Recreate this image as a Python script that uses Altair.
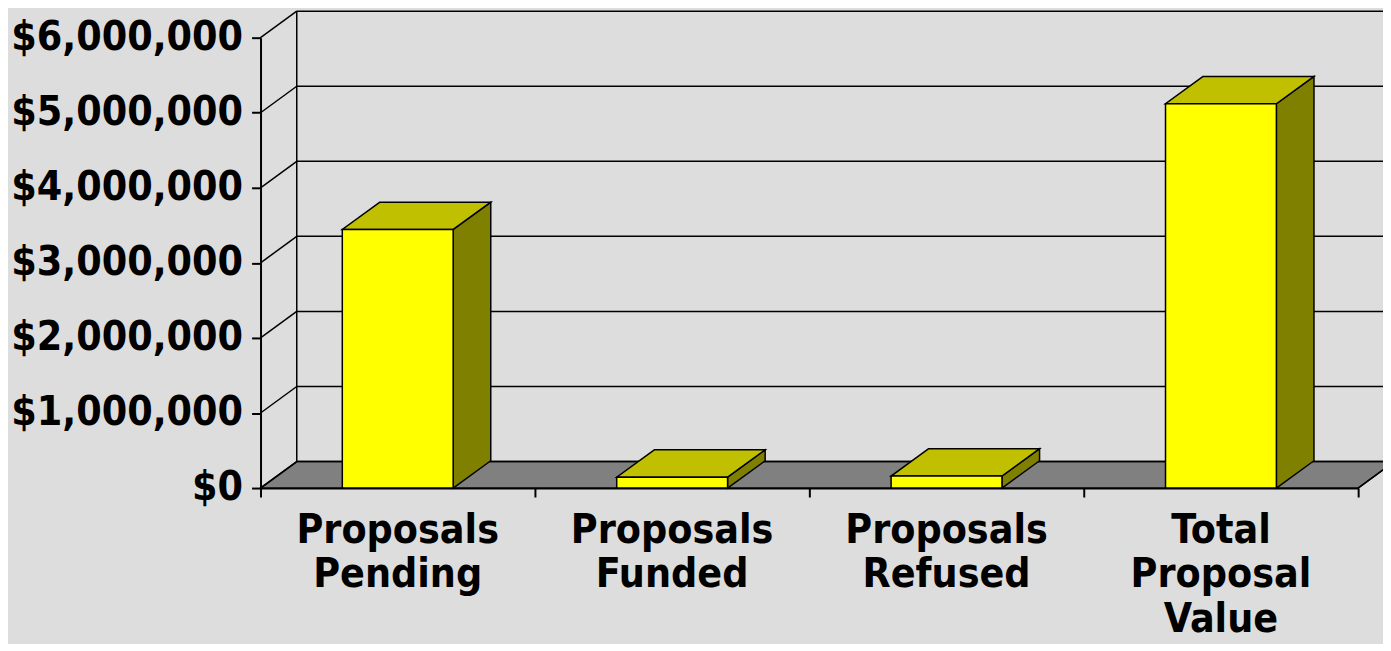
import altair as alt
import pandas as pd

# ---- data ----
categories = ["Proposals\nPending", "Proposals\nFunded", "Proposals\nRefused", "Total\nProposal\nValue"]
values = [3445000, 145000, 160000, 5120000]
y_ticks = [0, 1000000, 2000000, 3000000, 4000000, 5000000, 6000000]

# ---- styling constants (3-D look) ----
N = len(categories)
HALF = 0.202            # half width of a bar's front face (category units)
WDX, WDY = 0.132, 353000  # depth of walls / floor (x in category units, y in dollars)
BDX, BDY = 0.137, 364000  # depth of the bars
FONT = "DejaVu Sans Condensed"
FS = 41
BG = "#DDDDDD"

centers = [i + 0.5 for i in range(N)]
bars = pd.DataFrame({"cat": categories, "value": values, "center": centers})
bars["xl"] = bars["center"] - HALF
bars["xr"] = bars["center"] + HALF

side_rows, top_rows = [], []
for c, v, xl, xr in zip(bars["cat"], bars["value"], bars["xl"], bars["xr"]):
    side_rows.append({"cat": c, "x": xr, "y": 0, "y2": v})
    side_rows.append({"cat": c, "x": xr + BDX, "y": BDY, "y2": v + BDY})
    top_rows.append({"cat": c, "y": v, "x": xl, "x2": xr})
    top_rows.append({"cat": c, "y": v + BDY, "x": xl + BDX, "x2": xr + BDX})
side_df = pd.DataFrame(side_rows)
top_df = pd.DataFrame(top_rows)

floor_df = pd.DataFrame({"y": [0, WDY], "x": [0, WDX], "x2": [N, N + WDX]})
grid_df = pd.DataFrame({"v": y_ticks})
grid_df["vb"] = grid_df["v"] + WDY
grid_df["x0"] = 0.0
grid_df["xb"] = WDX
grid_df["xe"] = N + WDX
wall_df = pd.DataFrame({"x": [WDX], "y": [WDY], "y2": [y_ticks[-1] + WDY]})
right_edge_df = pd.DataFrame({"x": [N], "x2": [N + WDX], "y": [0], "y2": [WDY]})

xs = alt.Scale(domain=[0, N], nice=False, zero=False)
ys = alt.Scale(domain=[y_ticks[0], y_ticks[-1]], nice=False, zero=False)

AX = alt.Axis(values=list(range(N + 1)), labels=False, tickSize=9, grid=False, title=None,
              domainColor="black", domainWidth=2, tickColor="black", tickWidth=2)
AY = alt.Axis(values=y_ticks, format="$,.0f", tickSize=9, grid=False, title=None,
              domainColor="black", domainWidth=2, tickColor="black", tickWidth=2,
              labelFont=FONT, labelFontSize=FS, labelFontWeight="bold",
              labelColor="black", labelPadding=9, labelLimit=0)


def X(field):
    return alt.X(field, scale=xs, axis=AX, title=None)


def Y(field):
    return alt.Y(field, scale=ys, axis=AY, title=None)


LW = 1.5

# floor
floor = alt.Chart(floor_df).mark_area(orient="horizontal", fill="#808080", stroke="black",
                                      strokeWidth=LW).encode(
    y=Y("y:Q"), x=X("x:Q"), x2="x2:Q",
)

# back-wall gridlines
back_grid = alt.Chart(grid_df).mark_rule(color="black", strokeWidth=LW).encode(
    x=X("xb:Q"), x2="xe:Q", y=Y("vb:Q"),
)

# side-wall diagonals
side_grid = alt.Chart(grid_df).mark_rule(color="black", strokeWidth=LW).encode(
    x=X("x0:Q"), x2="xb:Q", y=Y("v:Q"), y2="vb:Q",
)

# back-wall left edge
wall_edge = alt.Chart(wall_df).mark_rule(color="black", strokeWidth=LW).encode(
    x=X("x:Q"), y=Y("y:Q"), y2="y2:Q",
)

# floor right edge
right_edge = alt.Chart(right_edge_df).mark_rule(color="black", strokeWidth=LW).encode(
    x=X("x:Q"), x2="x2:Q", y=Y("y:Q"), y2="y2:Q",
)

# bar side faces
side = alt.Chart(side_df).mark_area(fill="#808000", stroke="black", strokeWidth=LW,
                                    strokeJoin="miter").encode(
    x=X("x:Q"), y=Y("y:Q"), y2="y2:Q", detail="cat:N",
)

# bar top faces
top = alt.Chart(top_df).mark_area(orient="horizontal", fill="#C0C000", stroke="black",
                                  strokeWidth=LW, strokeJoin="miter").encode(
    y=Y("y:Q"), x=X("x:Q"), x2="x2:Q", detail="cat:N",
)

# bar front faces
front = alt.Chart(bars).mark_rect(fill="#FFFF00", stroke="black", strokeWidth=LW).encode(
    x=X("xl:Q"), x2="xr:Q", y=Y("value:Q"), y2=alt.Y2(datum=0),
)

labels = alt.Chart(bars).mark_text(lineBreak="\n", font=FONT, fontSize=FS, fontWeight="bold",
                                   color="black", align="center", baseline="alphabetic",
                                   dy=55, lineHeight=45).encode(
    x=X("center:Q"),
    y=alt.Y(datum=0, scale=ys, axis=AY, title=None),
    text="cat:N",
)

chart = alt.layer(floor, back_grid, side_grid, wall_edge, right_edge, side, top, front,
                  labels).properties(
    width=1104, height=453,
    autosize=alt.AutoSizeParams(type="none"),
    padding={"left": 254, "top": 28, "right": 25, "bottom": 155},
    background=BG,
).configure_view(stroke=None)

chart.save("out.html", embed_options={"renderer": "svg", "actions": False})
